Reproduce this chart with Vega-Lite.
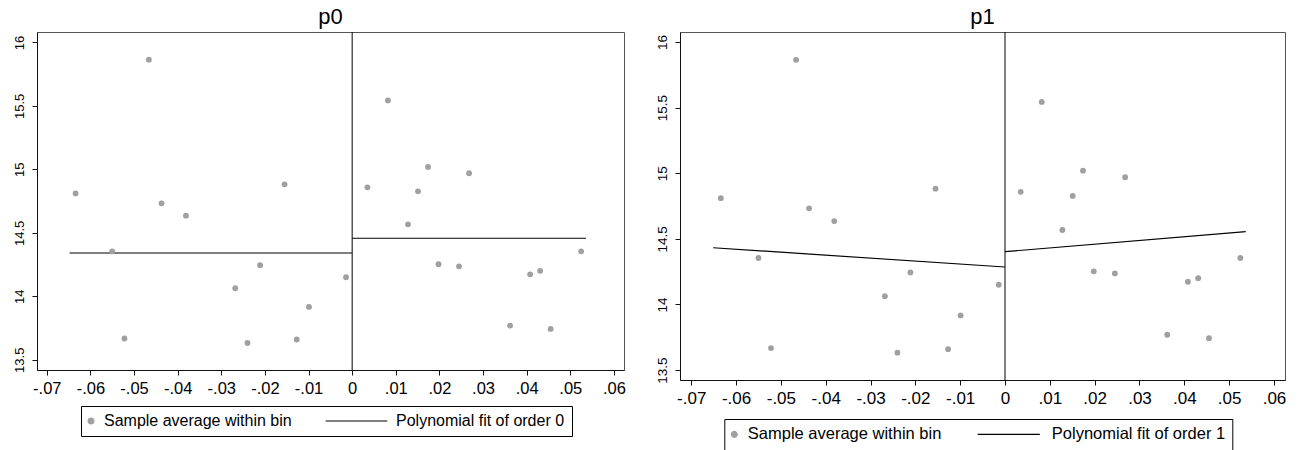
{
  "$schema": "https://vega.github.io/schema/vega-lite/v6.json",
  "background": "white",
  "padding": {"left": 12, "top": 5, "right": 5, "bottom": 0},
  "config": {
    "font": "Liberation Sans",
    "view": {"stroke": "#555555", "strokeWidth": 1},
    "axis": {"grid": false, "domainColor": "#111111", "tickColor": "#111111", "labelColor": "black", "tickSize": 5, "labelFont": "Liberation Sans", "labelFontSize": 17, "labelPadding": 4, "title": null},
    "title": {"font": "Liberation Sans", "fontSize": 22, "fontWeight": "normal", "color": "black", "frame": "group", "anchor": "middle", "offset": 3}
  },
  "datasets": {
    "bins": [
      {"x": -0.0634, "y": 14.81},
      {"x": -0.0466, "y": 15.864},
      {"x": -0.0550, "y": 14.354},
      {"x": -0.0522, "y": 13.667},
      {"x": -0.0437, "y": 14.732},
      {"x": -0.0381, "y": 14.635},
      {"x": -0.0268, "y": 14.063},
      {"x": -0.0240, "y": 13.632},
      {"x": -0.0211, "y": 14.244},
      {"x": -0.0155, "y": 14.882},
      {"x": -0.0127, "y": 13.659},
      {"x": -0.0099, "y": 13.916},
      {"x": -0.0014, "y": 14.150},
      {"x": 0.0035, "y": 14.858},
      {"x": 0.0082, "y": 15.543},
      {"x": 0.0128, "y": 14.567},
      {"x": 0.0151, "y": 14.827},
      {"x": 0.0174, "y": 15.019},
      {"x": 0.0198, "y": 14.252},
      {"x": 0.0245, "y": 14.236},
      {"x": 0.0268, "y": 14.969},
      {"x": 0.0362, "y": 13.769},
      {"x": 0.0408, "y": 14.173},
      {"x": 0.0431, "y": 14.200},
      {"x": 0.0455, "y": 13.743},
      {"x": 0.0525, "y": 14.354}
    ],
    "fit0": [
      {"side": "left", "x": -0.0648, "y": 14.341},
      {"side": "left", "x": 0, "y": 14.341},
      {"side": "right", "x": 0, "y": 14.457},
      {"side": "right", "x": 0.0536, "y": 14.457}
    ],
    "fit1": [
      {"side": "left", "x": -0.0651, "y": 14.432},
      {"side": "left", "x": 0, "y": 14.285},
      {"side": "right", "x": 0, "y": 14.402},
      {"side": "right", "x": 0.0537, "y": 14.554}
    ],
    "cutoff": [{"x": 0}]
  },
  "bounds": "flush",
  "spacing": 56,
  "resolve": {"scale": {"color": "independent", "x": "independent", "y": "independent"}, "legend": {"color": "independent"}},
  "hconcat": [
    {
      "width": 587,
      "height": 338,
      "title": "p0",
      "layer": [
        {
          "data": {"name": "cutoff"},
          "mark": {"type": "rule", "color": "black", "strokeWidth": 1},
          "encoding": {
            "x": {"field": "x", "type": "quantitative", "scale": {"domain": [-0.07225, 0.06232], "nice": false, "zero": false},
              "axis": {"values": [-0.07, -0.06, -0.05, -0.04, -0.03, -0.02, -0.01, 0, 0.01, 0.02, 0.03, 0.04, 0.05, 0.06], "labelFontSize": 16.5, "labelPadding": 5, "labelExpr": "datum.value == 0 ? '0' : (datum.value < 0 ? '-' : '') + '.0' + round(abs(datum.value) * 100)"}}
          }
        },
        {
          "data": {"name": "fit0"},
          "mark": {"type": "line", "strokeWidth": 1.2},
          "encoding": {
            "x": {"field": "x", "type": "quantitative"},
            "y": {"field": "y", "type": "quantitative", "scale": {"domain": [13.419, 16.082], "nice": false, "zero": false},
              "axis": {"values": [13.5, 14, 14.5, 15, 15.5, 16], "labelExpr": "'' + datum.value", "labelAngle": -90, "labelAlign": "center", "labelBaseline": "bottom", "labelFontSize": 13, "labelPadding": 6}},
            "detail": {"field": "side"},
            "color": {"datum": "Polynomial fit of order 0", "type": "nominal",
              "scale": {"domain": ["Sample average within bin", "Polynomial fit of order 0"], "range": ["#a0a0a0", "black"]},
              "legend": {"title": null, "orient": "none", "legendX": 44, "legendY": 374, "direction": "horizontal", "columns": 2, "strokeColor": "black", "fillColor": "white", "padding": 7, "labelFont": "Liberation Sans", "labelFontSize": 16, "labelColor": "black", "labelLimit": 0, "labelOffset": 0, "columnPadding": 31, "symbolSize": 30,
                "encode": {"symbols": {"update": {
                  "shape": {"signal": "datum.value === 'Polynomial fit of order 0' ? 'stroke' : 'circle'"},
                  "size": {"signal": "datum.value === 'Polynomial fit of order 0' ? 3800 : 34"},
                  "x": {"signal": "datum.value === 'Polynomial fit of order 0' ? -23.5 : 3"},
                  "fill": {"signal": "datum.value === 'Polynomial fit of order 0' ? 'transparent' : '#a0a0a0'"},
                  "stroke": {"signal": "datum.value === 'Polynomial fit of order 0' ? 'black' : 'transparent'"},
                  "strokeWidth": {"value": 1.2},
                  "opacity": {"value": 1}
                }}}}}
          }
        },
        {
          "data": {"name": "bins"},
          "mark": {"type": "circle", "size": 34, "opacity": 1},
          "encoding": {
            "x": {"field": "x", "type": "quantitative"},
            "y": {"field": "y", "type": "quantitative"},
            "color": {"datum": "Sample average within bin", "type": "nominal"}
          }
        }
      ]
    },
    {
      "width": 605,
      "height": 348,
      "title": "p1",
      "layer": [
        {
          "data": {"name": "cutoff"},
          "mark": {"type": "rule", "color": "black", "strokeWidth": 1},
          "encoding": {
            "x": {"field": "x", "type": "quantitative", "scale": {"domain": [-0.0725, 0.06246], "nice": false, "zero": false},
              "axis": {"values": [-0.07, -0.06, -0.05, -0.04, -0.03, -0.02, -0.01, 0, 0.01, 0.02, 0.03, 0.04, 0.05, 0.06], "labelFontSize": 17, "labelPadding": 5, "labelExpr": "datum.value == 0 ? '0' : (datum.value < 0 ? '-' : '') + '.0' + round(abs(datum.value) * 100)"}}
          }
        },
        {
          "data": {"name": "fit1"},
          "mark": {"type": "line", "strokeWidth": 1.2},
          "encoding": {
            "x": {"field": "x", "type": "quantitative"},
            "y": {"field": "y", "type": "quantitative", "scale": {"domain": [13.424, 16.076], "nice": false, "zero": false},
              "axis": {"values": [13.5, 14, 14.5, 15, 15.5, 16], "labelExpr": "'' + datum.value", "labelAngle": -90, "labelAlign": "center", "labelBaseline": "bottom", "labelFontSize": 13.5, "labelPadding": 6}},
            "detail": {"field": "side"},
            "color": {"datum": "Polynomial fit of order 1", "type": "nominal",
              "scale": {"domain": ["Sample average within bin", "Polynomial fit of order 1"], "range": ["#a0a0a0", "black"]},
              "legend": {"title": null, "orient": "none", "legendX": 44.3, "legendY": 387, "direction": "horizontal", "columns": 2, "strokeColor": "black", "fillColor": "white", "padding": 7, "labelFont": "Liberation Sans", "labelFontSize": 16.5, "labelColor": "black", "labelLimit": 0, "labelOffset": 0, "columnPadding": 33, "symbolSize": 30,
                "encode": {"symbols": {"update": {
                  "shape": {"signal": "datum.value === 'Polynomial fit of order 1' ? 'stroke' : 'circle'"},
                  "size": {"signal": "datum.value === 'Polynomial fit of order 1' ? 3850 : 34"},
                  "x": {"signal": "datum.value === 'Polynomial fit of order 1' ? -26.5 : 3"},
                  "fill": {"signal": "datum.value === 'Polynomial fit of order 1' ? 'transparent' : '#a0a0a0'"},
                  "stroke": {"signal": "datum.value === 'Polynomial fit of order 1' ? 'black' : 'transparent'"},
                  "strokeWidth": {"value": 1.2},
                  "opacity": {"value": 1}
                }}}}}
          }
        },
        {
          "data": {"name": "bins"},
          "mark": {"type": "circle", "size": 34, "opacity": 1},
          "encoding": {
            "x": {"field": "x", "type": "quantitative"},
            "y": {"field": "y", "type": "quantitative"},
            "color": {"datum": "Sample average within bin", "type": "nominal"}
          }
        }
      ]
    }
  ]
}
